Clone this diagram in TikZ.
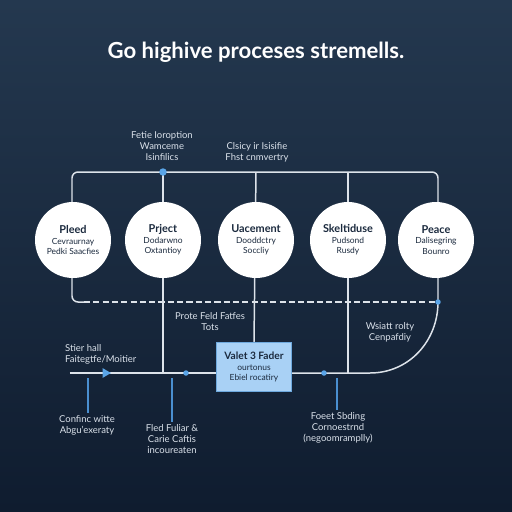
\documentclass[tikz,border=0pt]{standalone}
\usepackage{fontspec}
\setmainfont{Lato}
\usetikzlibrary{arrows.meta}
\definecolor{bgtop}{HTML}{24384F}
\definecolor{bgbot}{HTML}{0F1C2F}
\definecolor{wirec}{HTML}{DDE3EA}
\definecolor{accent}{HTML}{5AA5E8}
\definecolor{accentline}{HTML}{4A8FD0}
\definecolor{boxfill}{HTML}{A9D1F5}
\definecolor{boxedge}{HTML}{6EA9DE}
\definecolor{ink}{HTML}{1B2A3E}
\definecolor{lblc}{HTML}{DAE1EA}
\begin{document}
\begin{tikzpicture}[x=0.02cm,y=-0.02cm,
  wire/.style={draw=wirec, line width=0.85pt},
  dashwire/.style={draw=wirec, line width=0.85pt, dash pattern=on 3.5pt off 1.8pt},
  bluewire/.style={draw=accentline, line width=0.9pt},
  stage/.style={circle, fill=white, minimum size=1.52cm, inner sep=0pt, align=center, text=ink, font=\fontsize{4.8}{5.9}\selectfont},
  lab/.style={align=center, text=lblc, font=\fontsize{5.4}{6.3}\selectfont, inner sep=1pt},
  dotnode/.style={circle, fill=accent, inner sep=0pt, minimum size=0.15cm},
  smalldot/.style={circle, fill=accent, inner sep=0pt, minimum size=0.11cm},
  keybox/.style={rectangle, fill=boxfill, draw=boxedge, line width=0.6pt, minimum width=1.5cm, minimum height=0.98cm, align=center, text=ink, font=\fontsize{4.8}{5.8}\selectfont}
]
\fill[top color=bgtop, bottom color=bgbot] (0,0) rectangle (512,512);
\useasboundingbox (0,0) rectangle (512,512);

% title
\node[text=white, font=\fontsize{12.6}{14}\selectfont\bfseries] (title) at (256,52) {Go highive proceses stremells.};

% coordinates
\coordinate (tl) at (72,172);
\coordinate (t2) at (163,172);
\coordinate (t3) at (256,172);
\coordinate (t4) at (348,172);
\coordinate (tr) at (438,172);
\coordinate (bl) at (72,302);
\coordinate (dl) at (84,302);
\coordinate (br) at (438,302);
\coordinate (m0) at (70,373);
\coordinate (a1) at (111,373);
\coordinate (m2) at (163,373);
\coordinate (m4) at (348,373);
\coordinate (m5) at (370,373);

% key box
\node[keybox] (box) at (254,367) {{\fontsize{5.8}{6.8}\selectfont\bfseries Valet 3 Fader}\\ ourtonus\\ Ebiel rocatiry};

% frame lines
\draw[wire, rounded corners=0.12cm] (br) -- (tr) -- (tl) -- (bl) -- (dl);
\draw[dashwire] (dl) -- (br);
\draw[wire] (t2) -- (m2);
\draw[wire] (t3) -- (box.north);
\draw[wire] (t4) -- (m4);

% main line
\draw[wire] (m0) -- (m0 -| box.west);
\draw[wire, -{Triangle[length=0.17cm, width=0.19cm, color=accent]}] (m0) -- (a1);
\draw[wire] (m5 -| box.east) -- (m5) .. controls (409,373) and (438,341) .. (br);

% stages
\node[stage] (s1) at (73,240) {{\fontsize{6.2}{7.2}\selectfont\bfseries Pleed}\\ Cevraurnay\\ Pedki Saacfies};
\node[stage] (s2) at (163,240) {{\fontsize{6.2}{7.2}\selectfont\bfseries Prject}\\ Dodarwno\\ Oxtantioy};
\node[stage] (s3) at (256,240) {{\fontsize{6.2}{7.2}\selectfont\bfseries Uacement}\\ Dooddctry\\ Soccliy};
\node[stage] (s4) at (348,240) {{\fontsize{6.2}{7.2}\selectfont\bfseries Skeltiduse}\\ Pudsond\\ Rusdy};
\node[stage] (s5) at (436,240) {{\fontsize{6.2}{7.2}\selectfont\bfseries Peace}\\ Dalisegring\\ Bounro};

% dots
\node[dotnode] (d1) at (t2) {};
\node[smalldot] (d2) at (186,373) {};
\node[smalldot] (d3) at (324,373) {};
\node[smalldot] (d4) at (br) {};

% labels
\node[lab] (l1) at (162,146) {Fetie Ioroption\\Wamceme\\Isinfilics};
\node[lab] (l2) at (257,152) {Clsicy ir Isisifie\\Fhst cnmvertry};
\node[lab] (l3) at (210,322) {Prote Feld Fatfes\\Tots};
\node[lab] (l4) at (390,332) {Wsiatt rolty\\Cenpafdiy};
\node[lab, anchor=west, align=left] (l5) at (63,354) {Stier hall\\Faitegtfe/Moitier};
\node[lab] (l6) at (87,425) {Confinc witte\\Abgu'exeraty};
\node[lab] (l7) at (172,439) {Fled Fuliar \&\\Carie Caftis\\incoureaten};
\node[lab] (l8) at (338,428) {Foeet Sbding\\Cornoestrnd\\(negoomramplly)};

% blue drop lines
\coordinate (b1) at (88,378);
\coordinate (b2) at (172,378);
\coordinate (b3) at (337,378);
\draw[bluewire] (b1) -- (b1 |- l6.north);
\draw[bluewire] (b2) -- (b2 |- l7.north);
\draw[bluewire] (b3) -- (b3 |- l8.north);
\end{tikzpicture}
\end{document}
